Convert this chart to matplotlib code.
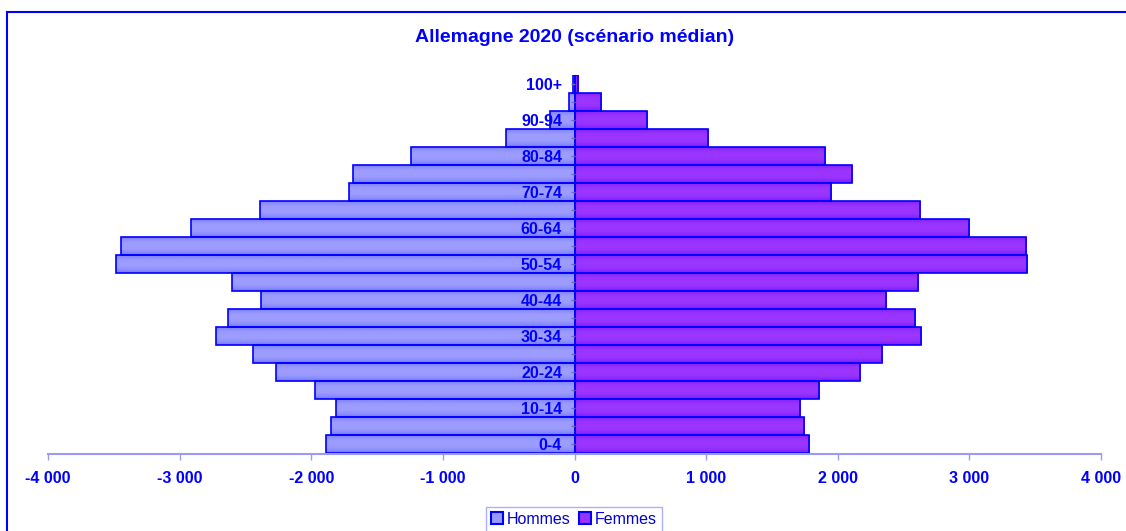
import numpy as np
import matplotlib.pyplot as plt
from matplotlib.colors import LinearSegmentedColormap
from matplotlib.patches import Patch, Rectangle

# groupes d'age, du bas vers le haut
ages = ['0-4', '5-9', '10-14', '15-19', '20-24', '25-29', '30-34', '35-39',
        '40-44', '45-49', '50-54', '55-59', '60-64', '65-69', '70-74',
        '75-79', '80-84', '85-89', '90-94', '95-99', '100+']
# effectifs en milliers
hommes = [1890, 1850, 1815, 1970, 2270, 2440, 2725, 2635, 2385, 2605, 3485,
          3445, 2910, 2390, 1715, 1685, 1240, 520, 185, 40, 10]
femmes = [1785, 1745, 1710, 1855, 2170, 2335, 2630, 2590, 2370, 2610, 3440,
          3430, 2995, 2625, 1950, 2105, 1900, 1015, 550, 205, 25]

xticks = [-4000, -3000, -2000, -1000, 0, 1000, 2000, 3000, 4000]
xlabels = ['-4 000', '-3 000', '-2 000', '-1 000', '0', '1 000', '2 000', '3 000', '4 000']
titre = 'Allemagne 2020 (scénario médian)'

plt.rcParams['font.family'] = ['Liberation Sans', 'DejaVu Sans']

BLEU = '#0000ff'
C_H = '#9999ff'
C_F = '#9933ff'

fig = plt.figure(figsize=(11.26, 5.31), dpi=100)
ax = fig.add_axes([48/1126, 1-454/531, 1053/1126, 379/531])
ax.set_axisbelow(False)

y = np.arange(len(ages))
val_h = [-v for v in hommes]

# remplissage
bh = ax.barh(y, val_h, height=1.0, color=C_H, linewidth=0, zorder=1)
bf = ax.barh(y, femmes, height=1.0, color=C_F, linewidth=0, zorder=1)

# degrade vertical (plus sombre sur les bords)
grad = (np.abs(np.linspace(-1, 1, 40)) ** 2.5)[:, None]
for bars, c_light, c_dark in [(bh, '#9d9dff', '#7373ff'), (bf, '#9b36ff', '#7c18ff')]:
    cmap = LinearSegmentedColormap.from_list('g', [c_light, c_dark])
    for b in bars:
        x0, yb = b.get_x(), b.get_y()
        w, h = b.get_width(), b.get_height()
        im = ax.imshow(grad, cmap=cmap, vmin=0, vmax=1, aspect='auto',
                       extent=(x0, x0 + w, yb, yb + h), zorder=1.1,
                       interpolation='bilinear')
        im.set_clip_path(b)

# contours
ax.barh(y, val_h, height=1.0, facecolor='none', edgecolor=BLEU, linewidth=1.2, zorder=1.2)
ax.barh(y, femmes, height=1.0, facecolor='none', edgecolor=BLEU, linewidth=1.2, zorder=1.2)

ax.set_xlim(-4000, 4000)
ax.set_ylim(-0.53, 20.5)

ax.spines['top'].set_visible(False)
ax.spines['right'].set_visible(False)
ax.spines['left'].set_position(('data', 0))
ax.spines['left'].set_color(BLEU)
ax.spines['bottom'].set_color(C_H)
ax.spines['bottom'].set_linewidth(1.5)

ax.set_xticks(xticks, xlabels)
ax.set_yticks(y, [a if i % 2 == 0 else '' for i, a in enumerate(ages)])
ax.tick_params(axis='x', length=4, color=C_H, width=1, pad=8,
               labelsize=11.5, labelcolor=BLEU)
ax.tick_params(axis='y', length=3, color='#6666cc', width=1, pad=6,
               labelsize=11.5, labelcolor=BLEU)
for t in ax.get_xticklabels() + ax.get_yticklabels():
    t.set_fontweight('bold')

fig.text(575/1126, 1-37/531, titre, ha='center', va='center',
         fontsize=14, fontweight='bold', color=BLEU)

handles = [Patch(facecolor=C_H, edgecolor=BLEU, linewidth=1.5),
           Patch(facecolor=C_F, edgecolor=BLEU, linewidth=1.5)]
leg = fig.legend(handles, ['Hommes', 'Femmes'], loc='upper center',
                 bbox_to_anchor=(574/1126, 1-507/531), ncol=2, frameon=True,
                 fancybox=False, fontsize=11.5, handlelength=0.75, handleheight=0.75,
                 handletextpad=0.25, columnspacing=0.5, borderpad=0.3,
                 borderaxespad=0, labelcolor='#0000dd')
leg.get_frame().set_edgecolor(C_H)
leg.get_frame().set_linewidth(1.0)

# cadre exterieur
fig.patches.append(Rectangle((7/1126, -0.1), 1.2, 1.1 - 12/531, transform=fig.transFigure,
                             fill=False, edgecolor=BLEU, linewidth=1.5))

fig.savefig('out.png', dpi=100)
